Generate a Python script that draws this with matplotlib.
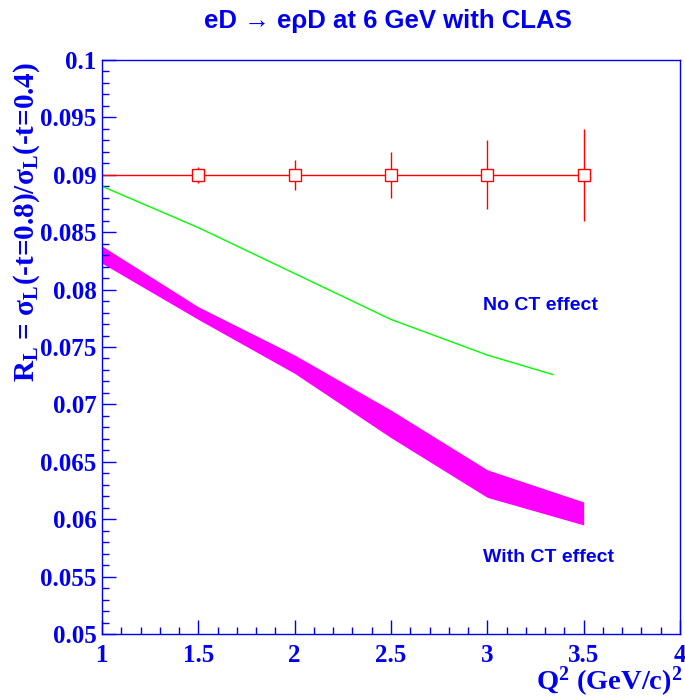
import matplotlib
matplotlib.use("Agg")
import matplotlib.pyplot as plt
from matplotlib.ticker import MultipleLocator, FuncFormatter

plt.rcParams['mathtext.fontset'] = 'custom'
plt.rcParams['mathtext.rm'] = 'Liberation Serif:bold'
plt.rcParams['mathtext.it'] = 'Liberation Serif:bold'
plt.rcParams['mathtext.bf'] = 'Liberation Serif:bold'

# data points (measured ratio, flat at 0.09 with growing errors)
q2_pts = [1.5, 2.0, 2.5, 3.0, 3.5]
r_pts = [0.09, 0.09, 0.09, 0.09, 0.09]
r_err = [0.0007, 0.0013, 0.002, 0.003, 0.004]
ref_line_x = [1.0, 3.52]
ref_line_y = [0.09, 0.09]

# no CT effect curve
q2_noct = [1.0, 1.5, 2.0, 2.5, 3.0, 3.34]
r_noct = [0.0890, 0.0854, 0.0814, 0.0774, 0.0743, 0.0726]

# with CT effect band
q2_ct = [1.0, 1.5, 2.0, 2.5, 3.0, 3.5]
r_ct_hi = [0.0838, 0.0785, 0.0743, 0.0695, 0.0643, 0.0615]
r_ct_lo = [0.0823, 0.0774, 0.0727, 0.0671, 0.0619, 0.0595]

blue = '#0000f0'
W, H = 685, 700
fig = plt.figure(figsize=(W / 100, H / 100), dpi=100)
ax = fig.add_axes([102 / W, (H - 634) / H, 578 / W, 574 / H])

ax.fill_between(q2_ct, r_ct_lo, r_ct_hi, color='#ff00ff', lw=0)
ax.plot(q2_noct, r_noct, color='#00ff00', lw=1)
ax.plot(ref_line_x, ref_line_y, color='red', lw=1)
ax.errorbar(q2_pts, r_pts, yerr=r_err, fmt='s', mfc='white', mec='red',
            ecolor='red', ms=8.5, mew=1, elinewidth=1, capsize=0)

ax.set_xlim(1, 4)
ax.set_ylim(0.05, 0.1)
ax.xaxis.set_major_locator(MultipleLocator(0.5))
ax.xaxis.set_minor_locator(MultipleLocator(0.1))
ax.yaxis.set_major_locator(MultipleLocator(0.005))
ax.yaxis.set_minor_locator(MultipleLocator(0.001))
fmt = FuncFormatter(lambda v, p: '%g' % round(v, 4))
ax.xaxis.set_major_formatter(fmt)
ax.yaxis.set_major_formatter(fmt)

ax.tick_params(which='both', direction='in', color=blue, top=False, right=False)
ax.tick_params(which='major', length=10, width=1)
ax.tick_params(which='minor', length=5, width=1)
ax.tick_params(axis='y', which='major', pad=4, labelsize=18, labelcolor=blue)
ax.tick_params(axis='x', which='major', pad=7, labelsize=18, labelcolor=blue)
for lab in ax.get_xticklabels() + ax.get_yticklabels():
    lab.set_fontfamily('Liberation Serif')
    lab.set_fontweight('bold')
for sp in ax.spines.values():
    sp.set_color(blue)
    sp.set_linewidth(1)

ax.text(2.98, 0.0786, 'No CT effect', color=blue, fontsize=14,
        fontfamily='Liberation Sans', fontweight='bold', ha='left', va='center')
ax.text(2.98, 0.0567, 'With CT effect', color=blue, fontsize=14,
        fontfamily='Liberation Sans', fontweight='bold', ha='left', va='center')

fig.text(388 / W, 1 - 21 / H, 'eD \u2192 e\u03c1D at 6 GeV with CLAS', color=blue,
         fontsize=18.5, fontweight='bold', family=['Liberation Sans', 'DejaVu Sans'],
         ha='center', va='center')

fig.text(27 / W, 1 - 62 / H, 'R$_L$ = \u03c3$_L$(-t=0.8)/\u03c3$_L$(-t=0.4)',
         color=blue, fontsize=21, rotation=90, ha='center', va='top',
         fontfamily='Liberation Serif', fontweight='bold')
fig.text(682 / W, 1 - 690 / H, 'Q$^2$ (GeV/c)$^2$', color=blue, fontsize=20.5,
         ha='right', va='baseline', fontfamily='Liberation Serif', fontweight='bold')

fig.savefig('out.png', dpi=100)
